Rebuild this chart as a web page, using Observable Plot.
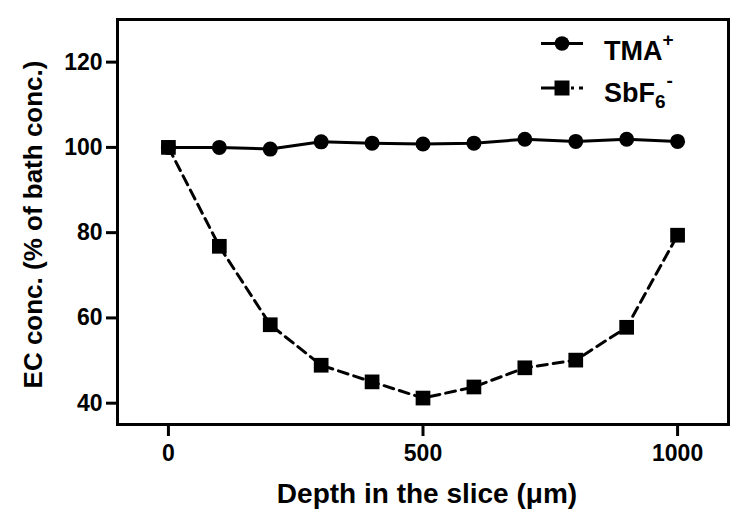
<!DOCTYPE html>
<html><head><meta charset="utf-8">
<script src="https://cdn.jsdelivr.net/npm/d3@7"></script>
<script src="https://cdn.jsdelivr.net/npm/@observablehq/plot@0.6"></script>
<style>
body{margin:0;background:#fff;}
#wrap{position:relative;width:750px;height:525px;}
#wrap svg{display:block;}
#legend{position:absolute;left:0;top:0;}
</style></head><body><div id="wrap"></div>
<script>
const depth = [0, 100, 200, 300, 400, 500, 600, 700, 800, 900, 1000];
const tma = [100, 100, 99.6, 101.3, 101.0, 100.8, 101.0, 101.9, 101.4, 101.9, 101.4];
const sbf6 = [100, 76.8, 58.4, 48.9, 45.0, 41.2, 43.8, 48.3, 50.1, 57.8, 79.4];
const xTicks = [0, 500, 1000];
const yTicks = [40, 60, 80, 100, 120];
const xTitle = "Depth in the slice (\u03bcm)";
const yTitle = "EC conc. (% of bath conc.)";

const tmaData = depth.map((d, i) => ({depth: d, value: tma[i]}));
const sbData = depth.map((d, i) => ({depth: d, value: sbf6[i]}));

const font = "Liberation Sans, Arial, sans-serif";
const plot = Plot.plot({
  width: 750, height: 525,
  marginLeft: 117, marginRight: 22, marginTop: 19, marginBottom: 101,
  style: {fontFamily: font, fontWeight: "bold", fontSize: "23px", background: "white", color: "black"},
  x: {domain: [-100, 1100]},
  y: {domain: [35, 130]},
  marks: [
    Plot.frame({stroke: "black", strokeWidth: 3}),
    Plot.axisX(xTicks, {tickSize: 12, tickPadding: 8, strokeWidth: 3, fontSize: 23, fontWeight: "bold", tickFormat: d3.format("d"), label: null}),
    Plot.axisY(yTicks, {tickSize: 11, tickPadding: 4, strokeWidth: 3, fontSize: 23, fontWeight: "bold", label: null}),
    Plot.text([xTitle], {frameAnchor: "bottom", dx: 4, dy: 70, lineAnchor: "middle", textAnchor: "middle", fontSize: 28, fontWeight: "bold", fill: "black"}),
    Plot.text([yTitle], {frameAnchor: "left", dx: -84, dy: 2.5, rotate: -90, lineAnchor: "middle", textAnchor: "middle", fontSize: 26, fontWeight: "bold", fill: "black"}),
    Plot.line(tmaData, {x: "depth", y: "value", stroke: "black", strokeWidth: 3}),
    Plot.line(sbData, {x: "depth", y: "value", stroke: "black", strokeWidth: 3, strokeDasharray: "10,6"}),
    Plot.dot(tmaData, {x: "depth", y: "value", symbol: "circle", r: 7.5, fill: "black", stroke: "none"}),
    Plot.dot(sbData, {x: "depth", y: "value", symbol: "square", r: 8.3, fill: "black", stroke: "none"})
  ]
});
const wrap = document.getElementById("wrap");
wrap.appendChild(plot);

// legend overlay
const lg = d3.select(wrap).append("svg").attr("id", "legend").attr("width", 750).attr("height", 525)
  .style("font-family", font).style("font-weight", "bold").style("font-size", "27px");
const items = [
  {name: "TMA", sub: null, sup: "+", symbol: d3.symbolCircle, size: Math.PI * 7.3 * 7.3, dash: null, ly: 43.5, ty: 60},
  {name: "SbF", sub: "6", sup: "-", symbol: d3.symbolSquare, size: 15 * 15, dash: "15,15,3,5,5", ly: 88, ty: 101.7}
];
items.forEach(it => {
  lg.append("line").attr("x1", 541).attr("x2", 583).attr("y1", it.ly).attr("y2", it.ly)
    .attr("stroke", "black").attr("stroke-width", 3).attr("stroke-dasharray", it.dash);
  lg.append("path").attr("d", d3.symbol(it.symbol, it.size)()).attr("transform", `translate(562,${it.ly})`).attr("fill", "black");
  const t = lg.append("text").attr("x", 604).attr("y", it.ty).attr("fill", "black");
  t.append("tspan").text(it.name);
  if (it.sub) t.append("tspan").attr("font-size", 19).attr("dy", 6).text(it.sub);
  if (it.sup) t.append("tspan").attr("font-size", 19).attr("dy", it.sub ? -21 : -14).attr("dx", it.sub ? 1 : 0).text(it.sup);
});
</script></body></html>
